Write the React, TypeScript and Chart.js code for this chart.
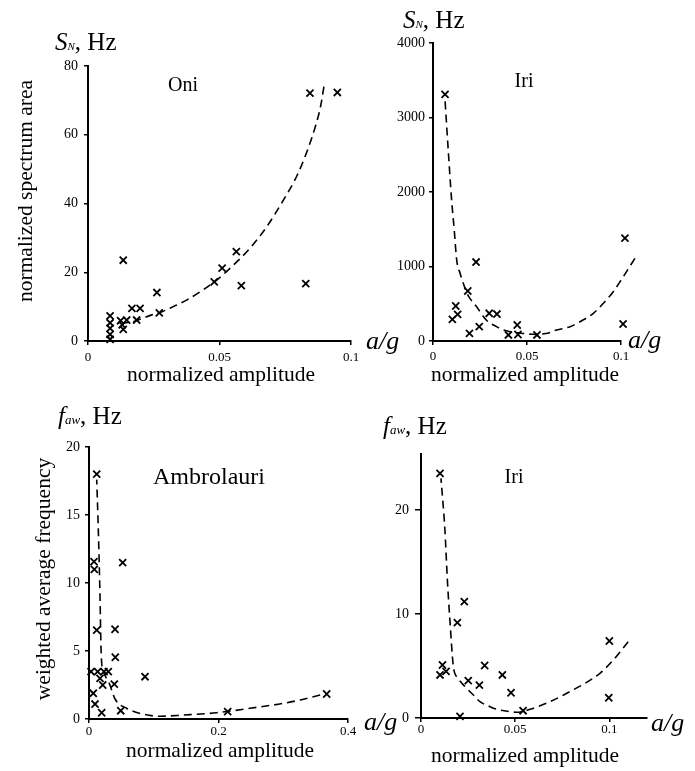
import React, { useEffect, useRef } from "react";
import { Chart, registerables } from "chart.js";

Chart.register(...registerables);

const W = 695;
const H = 771;
const SERIF = "'Liberation Serif', 'Times New Roman', serif";

// ---------- Panel 1: Oni, S_N vs a/g ----------
const oniPtsX = [0.0844, 0.0948, 0.0134, 0.0564, 0.051, 0.048, 0.0583, 0.0828, 0.0262, 0.0271, 0.0167, 0.0198, 0.0124, 0.0147, 0.0185, 0.0134, 0.013, 0.0084, 0.0084, 0.0084, 0.0084, 0.0084];
const oniPtsY = [72.1, 72.3, 23.5, 26.0, 21.2, 17.2, 16.1, 16.7, 14.1, 8.2, 9.5, 9.5, 5.9, 6.1, 6.1, 3.4, 4.7, 7.3, 5.3, 3.7, 1.9, 0.5];
const oniCurveX = [0.0133, 0.0172, 0.0198, 0.0242, 0.0274, 0.0324, 0.0375, 0.0426, 0.0489, 0.0553, 0.0616, 0.068, 0.0743, 0.0794, 0.0832, 0.0863, 0.0885, 0.0897];
const oniCurveY = [5.2, 5.6, 6.3, 7.6, 8.3, 10, 11.9, 14.3, 17.7, 22.1, 27, 33.3, 41, 48, 55, 62, 68.5, 74];
const oniXTicks = [0, 0.05, 0.1];
const oniYTicks = [0, 20, 40, 60, 80];

// ---------- Panel 2: Iri, S_N vs a/g ----------
const iriSPtsX = [0.0064, 0.0229, 0.1021, 0.1011, 0.0185, 0.0121, 0.0131, 0.0103, 0.0299, 0.034, 0.0194, 0.0246, 0.0448, 0.0401, 0.0452, 0.0553];
const iriSPtsY = [3311, 1060, 1380, 228, 671, 470, 358, 291, 372, 362, 103, 192, 215, 81, 87, 81];
const iriSCurveX = [0.0064, 0.0081, 0.0099, 0.0113, 0.0126, 0.0144, 0.0161, 0.0185, 0.0232, 0.0286, 0.034, 0.0374, 0.042, 0.047, 0.053, 0.06, 0.0658, 0.0729, 0.0782, 0.0853, 0.0906, 0.0959, 0.1012, 0.1074];
const iriSCurveY = [3234, 2563, 1892, 1490, 1087, 909, 774, 620, 460, 275, 190, 150, 120, 105, 90, 100, 148, 192, 259, 372, 506, 662, 863, 1110];
const iriSXTicks = [0, 0.05, 0.1];
const iriSYTicks = [0, 1000, 2000, 3000, 4000];

// ---------- Panel 3: Ambrolauri, f_aw vs a/g ----------
const ambPtsX = [0.0119, 0.0077, 0.0082, 0.052, 0.0119, 0.0402, 0.0406, 0.0865, 0.0031, 0.0134, 0.0232, 0.0298, 0.017, 0.0212, 0.0391, 0.0066, 0.0093, 0.0196, 0.049, 0.2142, 0.3671];
const ambPtsY = [18.0, 11.57, 11.0, 11.5, 6.54, 6.6, 4.54, 3.11, 3.48, 3.48, 3.48, 3.48, 2.99, 2.5, 2.57, 1.89, 1.1, 0.46, 0.61, 0.54, 1.84];
const ambCurveX = [0.0119, 0.0144, 0.017, 0.0185, 0.0196, 0.0216, 0.0317, 0.0402, 0.058, 0.0814, 0.11, 0.146, 0.197, 0.2487, 0.3, 0.326, 0.357];
const ambCurveY = [17.6, 13.9, 9.0, 5.3, 4.1, 3.6, 2.57, 1.47, 0.79, 0.38, 0.2, 0.29, 0.46, 0.79, 1.15, 1.4, 1.76];
const ambXTicks = [0, 0.2, 0.4];
const ambYTicks = [0, 5, 10, 15, 20];

// ---------- Panel 4: Iri, f_aw vs a/g ----------
const iriFPtsX = [0.0101, 0.023, 0.0193, 0.1, 0.0997, 0.0114, 0.0101, 0.0133, 0.0338, 0.0432, 0.0251, 0.031, 0.0478, 0.0542, 0.0207];
const iriFPtsY = [23.54, 11.19, 9.17, 7.41, 1.95, 5.1, 4.14, 4.49, 5.05, 4.14, 3.59, 3.17, 2.43, 0.7, 0.16];
const iriFCurveX = [0.0106, 0.0127, 0.014, 0.0154, 0.0172, 0.0196, 0.0234, 0.0278, 0.0313, 0.0366, 0.0402, 0.0473, 0.0508, 0.0579, 0.0685, 0.0774, 0.095, 0.1021, 0.11];
const iriFCurveY = [23.06, 18.09, 13.28, 9.26, 4.94, 3.85, 3.01, 2.21, 1.57, 1.09, 0.84, 0.61, 0.55, 0.84, 1.57, 2.38, 4.3, 5.58, 7.34];
const iriFXTicks = [0, 0.05, 0.1];
const iriFYTicks = [0, 10, 20];

type Part = { t: string; size: number; italic?: boolean; dy?: number };

function drawRich(ctx: CanvasRenderingContext2D, x: number, y: number, parts: Part[]) {
  let cx = x;
  ctx.textAlign = "left";
  ctx.textBaseline = "alphabetic";
  for (const p of parts) {
    ctx.font = `${p.italic ? "italic " : ""}${p.size}px ${SERIF}`;
    ctx.fillText(p.t, cx, y + (p.dy || 0));
    cx += ctx.measureText(p.t).width;
  }
}

function drawText(ctx: CanvasRenderingContext2D, t: string, x: number, y: number, size: number, align: CanvasTextAlign = "center", italic = false) {
  ctx.font = `${italic ? "italic " : ""}${size}px ${SERIF}`;
  ctx.textAlign = align;
  ctx.textBaseline = "alphabetic";
  ctx.fillText(t, x, y);
}

function drawRotated(ctx: CanvasRenderingContext2D, t: string, cx: number, cy: number, size: number) {
  ctx.save();
  ctx.translate(cx, cy);
  ctx.rotate(-Math.PI / 2);
  ctx.font = `${size}px ${SERIF}`;
  ctx.textAlign = "center";
  ctx.textBaseline = "middle";
  ctx.fillText(t, 0, 0);
  ctx.restore();
}

const SN: Part[] = [
  { t: "S", size: 25, italic: true },
  { t: "N", size: 11, italic: true },
  { t: ", Hz", size: 25 },
];
const FAW: Part[] = [
  { t: "f", size: 25, italic: true },
  { t: "aw", size: 13, italic: true },
  { t: ", Hz", size: 25 },
];

type PanelCfg = {
  ptsX: number[];
  ptsY: number[];
  curveX: number[];
  curveY: number[];
  xMax: number;
  yMax: number;
  xTicks: number[];
  yTicks: number[];
  area: { left: number; right: number; top: number; bottom: number };
  xPad: number;
  yPad: number;
  yTickLen: number;
  texts: (ctx: CanvasRenderingContext2D) => void;
};

const YW = 40;
const XH = 30;

const panels: PanelCfg[] = [
  {
    ptsX: oniPtsX, ptsY: oniPtsY, curveX: oniCurveX, curveY: oniCurveY,
    xMax: 0.1, yMax: 80, xTicks: oniXTicks, yTicks: oniYTicks,
    area: { left: 88, right: 351, top: 66, bottom: 341 },
    xPad: 5, yPad: 6, yTickLen: 4,
    texts: (ctx) => {
      drawRich(ctx, 55, 50, SN);
      drawText(ctx, "Oni", 183, 91, 20);
      drawRotated(ctx, "normalized spectrum area", 26, 191, 21.5);
      drawText(ctx, "normalized amplitude", 221, 381, 21.5);
      drawText(ctx, "a/g", 366, 349, 26, "left", true);
    },
  },
  {
    ptsX: iriSPtsX, ptsY: iriSPtsY, curveX: iriSCurveX, curveY: iriSCurveY,
    xMax: 0.1, yMax: 4000, xTicks: iriSXTicks, yTicks: iriSYTicks,
    area: { left: 433, right: 621, top: 43, bottom: 341 },
    xPad: 4, yPad: 4, yTickLen: 4,
    texts: (ctx) => {
      drawRich(ctx, 403, 28, SN);
      drawText(ctx, "Iri", 524, 87, 20);
      drawText(ctx, "normalized amplitude", 525, 381, 21.5);
      drawText(ctx, "a/g", 628, 348, 26, "left", true);
    },
  },
  {
    ptsX: ambPtsX, ptsY: ambPtsY, curveX: ambCurveX, curveY: ambCurveY,
    xMax: 0.4, yMax: 20, xTicks: ambXTicks, yTicks: ambYTicks,
    area: { left: 89, right: 348, top: 447, bottom: 719 },
    xPad: 1, yPad: 5, yTickLen: 4,
    texts: (ctx) => {
      drawRich(ctx, 58, 424, FAW);
      drawText(ctx, "Ambrolauri", 209, 484, 24);
      drawRotated(ctx, "weighted average frequency", 44, 579, 21.5);
      drawText(ctx, "normalized amplitude", 220, 757, 21.5);
      drawText(ctx, "a/g", 364, 730, 26, "left", true);
    },
  },
  {
    ptsX: iriFPtsX, ptsY: iriFPtsY, curveX: iriFCurveX, curveY: iriFCurveY,
    xMax: 0.12, yMax: 25.4, xTicks: iriFXTicks, yTicks: iriFYTicks,
    area: { left: 421, right: 647, top: 454, bottom: 718 },
    xPad: 0, yPad: 6, yTickLen: 6,
    texts: (ctx) => {
      drawRich(ctx, 383, 434, FAW);
      drawText(ctx, "Iri", 514, 483, 20);
      drawText(ctx, "normalized amplitude", 525, 762, 21.5);
      drawText(ctx, "a/g", 651, 731, 26, "left", true);
    },
  },
];

function Panel({ cfg }: { cfg: PanelCfg }) {
  const ref = useRef<HTMLCanvasElement | null>(null);
  useEffect(() => {
    if (!ref.current) return;
    const a = cfg.area;
    const textPlugin = {
      id: "panelTexts",
      afterDraw: (chart: any) => {
        const ctx = chart.ctx as CanvasRenderingContext2D;
        ctx.save();
        ctx.fillStyle = "#000";
        cfg.texts(ctx);
        ctx.restore();
      },
    };
    const grid = (len: number) => ({
      display: true,
      drawOnChartArea: false,
      drawTicks: true,
      tickLength: len,
      color: "#000",
      tickColor: "#000",
      tickWidth: 1.5,
      lineWidth: 1.5,
    });
    // curve given in descending x order so that no point is dropped outside the axis range
    const curveData = cfg.curveX.map((x, i) => ({ x, y: cfg.curveY[i] })).reverse();
    const chart = new Chart(ref.current, {
      type: "scatter",
      data: {
        datasets: [
          {
            data: cfg.ptsX.map((x, i) => ({ x, y: cfg.ptsY[i] })),
            showLine: false,
            pointStyle: "crossRot",
            pointRadius: 5,
            pointBorderWidth: 1.8,
            borderWidth: 1.8,
            borderColor: "#000",
            backgroundColor: "#000",
            pointBorderColor: "#000",
            clip: false,
          } as any,
          {
            data: curveData,
            showLine: true,
            pointRadius: 0,
            borderColor: "#000",
            borderWidth: 1.6,
            borderDash: [8, 5],
            cubicInterpolationMode: "monotone",
            fill: false,
            clip: false,
          } as any,
        ],
      },
      options: {
        responsive: false,
        animation: false,
        devicePixelRatio: 1,
        events: [],
        layout: {
          padding: {
            left: a.left - YW,
            right: W - a.right,
            top: a.top,
            bottom: H - a.bottom - XH,
          },
        },
        plugins: {
          legend: { display: false },
          tooltip: { enabled: false },
          title: { display: false },
        },
        scales: {
          x: {
            type: "linear",
            min: 0,
            max: cfg.xMax,
            afterBuildTicks: (scale: any) => {
              scale.ticks = cfg.xTicks.map((v) => ({ value: v }));
            },
            afterFit: (scale: any) => {
              scale.height = XH;
            },
            ticks: {
              autoSkip: false,
              maxRotation: 0,
              minRotation: 0,
              padding: cfg.xPad,
              color: "#000",
              font: { family: SERIF, size: 13 },
              callback: (v: any) => String(v),
            },
            grid: grid(4),
            border: { display: true, color: "#000", width: 2 },
          },
          y: {
            type: "linear",
            min: 0,
            max: cfg.yMax,
            afterBuildTicks: (scale: any) => {
              scale.ticks = cfg.yTicks.map((v) => ({ value: v }));
            },
            afterFit: (scale: any) => {
              scale.width = YW;
            },
            ticks: {
              padding: cfg.yPad,
              color: "#000",
              font: { family: SERIF, size: 14 },
              callback: (v: any) => String(v),
            },
            grid: grid(cfg.yTickLen),
            border: { display: true, color: "#000", width: 2 },
          },
        },
      } as any,
      plugins: [textPlugin],
    });
    return () => chart.destroy();
  }, [cfg]);
  return (
    <canvas
      ref={ref}
      width={W}
      height={H}
      style={{ position: "absolute", left: 0, top: 0, width: W, height: H }}
    />
  );
}

export default function App() {
  return (
    <div style={{ position: "absolute", left: 0, top: 0, width: W, height: H, background: "#fff", overflow: "hidden" }}>
      {panels.map((p, i) => (
        <Panel key={i} cfg={p} />
      ))}
    </div>
  );
}
